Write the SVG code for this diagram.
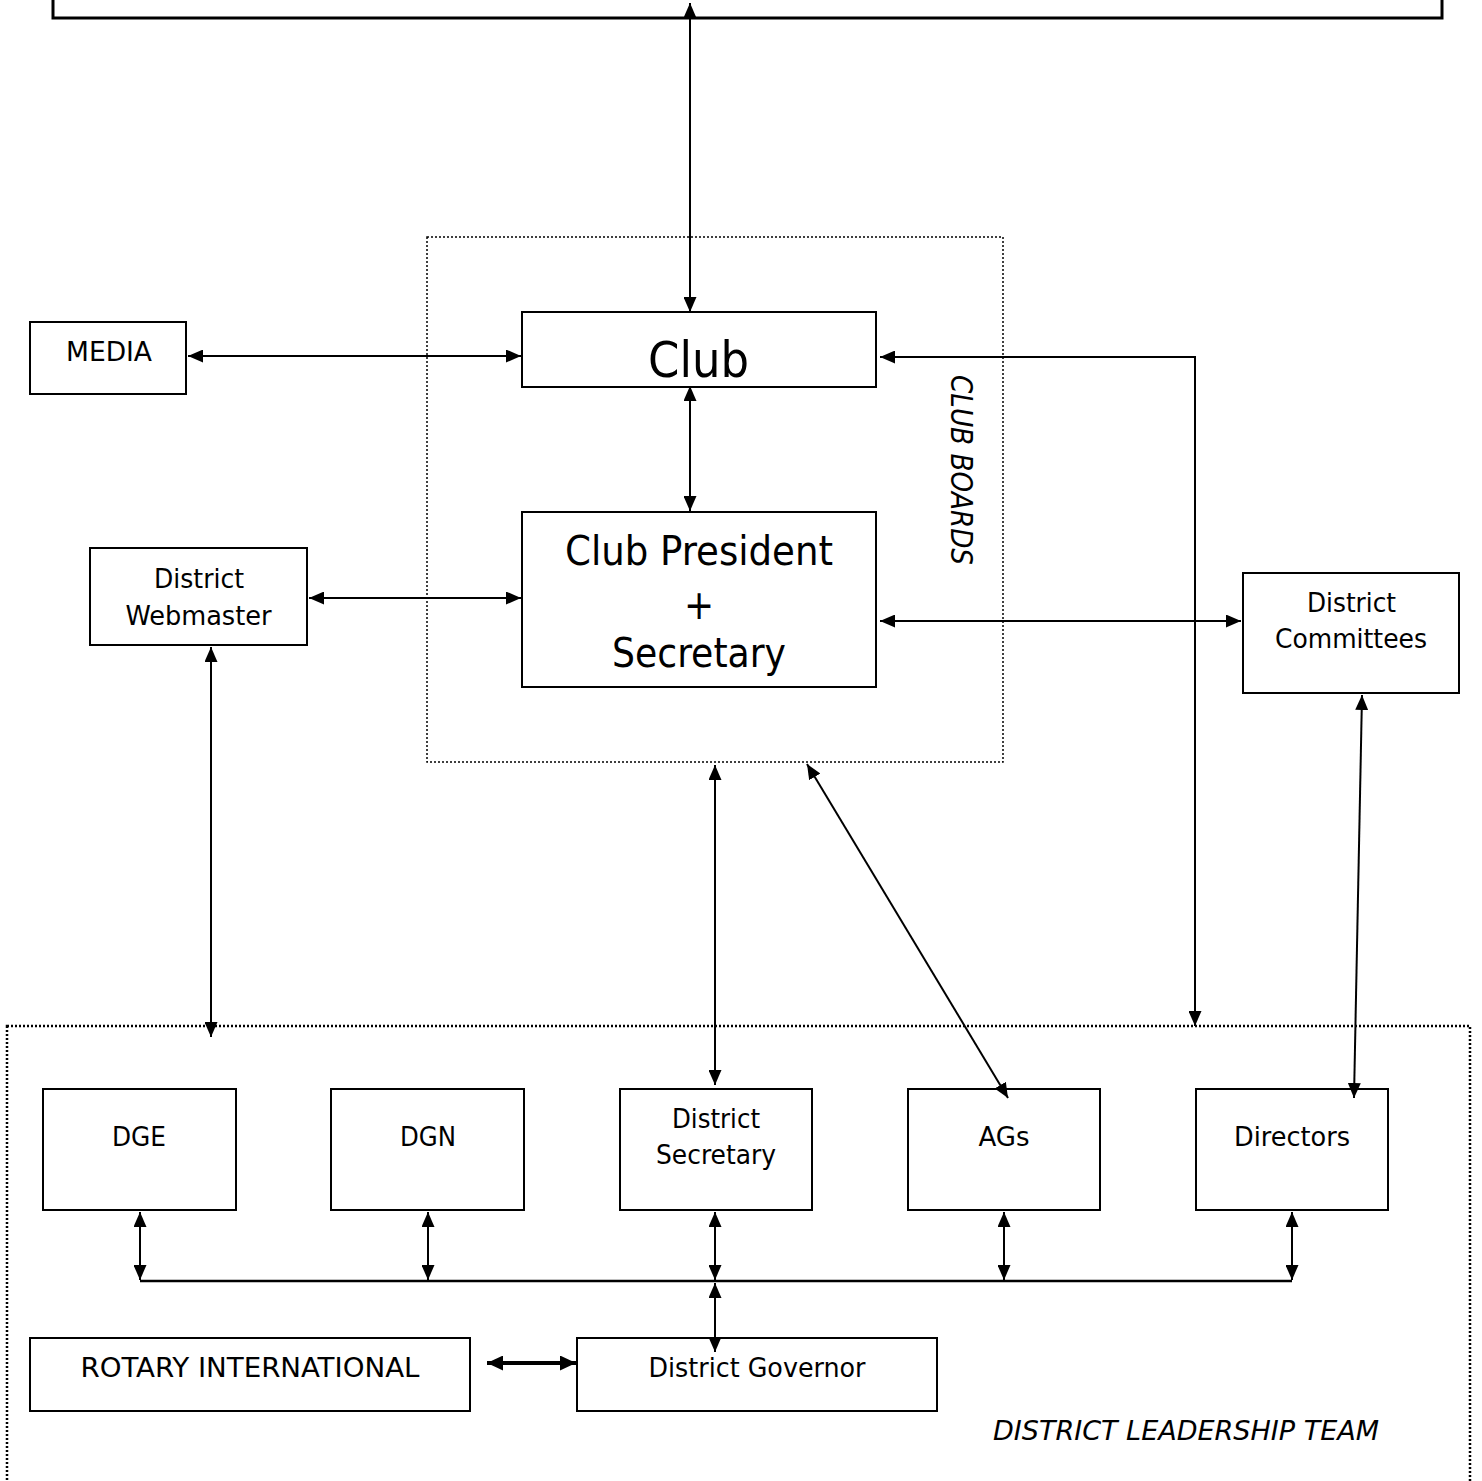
<svg xmlns="http://www.w3.org/2000/svg" width="1482" height="1481" viewBox="0 0 1482 1481">
<style>
.box{fill:#fff;stroke:#000;stroke-width:2}
.t{font-family:"DejaVu Sans Condensed","DejaVu Sans",sans-serif;font-size:26px;fill:#000;text-anchor:middle}
.big{font-size:40px}
.club{font-size:50px}
.it{font-style:italic}
.c{fill:none;stroke:#000;stroke-width:2;marker-start:url(#ah);marker-end:url(#ah)}
</style>
<defs>
<marker id="ah" viewBox="0 0 15 13" refX="15" refY="6.5" markerWidth="15" markerHeight="13" markerUnits="userSpaceOnUse" orient="auto-start-reverse">
<path d="M0,0 L15,6.5 L0,13 z" fill="#000"/>
</marker>
<marker id="ah2" viewBox="0 0 16 15" refX="16" refY="7.5" markerWidth="16" markerHeight="15" markerUnits="userSpaceOnUse" orient="auto-start-reverse">
<path d="M0,0 L16,7.5 L0,15 z" fill="#000"/>
</marker>
</defs>
<rect width="1482" height="1481" fill="#fff"/>

<g id="club-boards">
<rect x="427" y="237" width="576" height="525" fill="none" stroke="#000" stroke-width="1.5" stroke-dasharray="2,2"/>
<text class="t it" font-size="30" transform="translate(951,470) rotate(90)" style="font-size:30px" textLength="190" lengthAdjust="spacingAndGlyphs">CLUB BOARDS</text>
</g>

<g id="district-leadership-team">
<rect x="7" y="1026" width="1463" height="470" fill="none" stroke="#000" stroke-width="2.5" stroke-dasharray="2,2"/>
<text class="t it" x="1186" y="1440" style="font-size:27px" textLength="386" lengthAdjust="spacingAndGlyphs">DISTRICT LEADERSHIP TEAM</text>
</g>

<g id="top-box">
<rect x="53" y="-10" width="1389" height="28" fill="#fff" stroke="#000" stroke-width="3"/>
</g>

<g id="media">
<rect class="box" x="30" y="322" width="156" height="72"/>
<text class="t" x="109" y="361" textLength="86" lengthAdjust="spacingAndGlyphs">MEDIA</text>
</g>

<g id="club">
<rect class="box" x="522" y="312" width="354" height="75"/>
<text class="t club" x="698.5" y="377" textLength="101" lengthAdjust="spacingAndGlyphs">Club</text>
</g>

<g id="club-president">
<rect class="box" x="522" y="512" width="354" height="175"/>
<text class="t big" x="699" y="565" textLength="268" lengthAdjust="spacingAndGlyphs">Club President</text>
<text class="t big" x="699" y="619">+</text>
<text class="t big" x="699" y="667" textLength="174" lengthAdjust="spacingAndGlyphs">Secretary</text>
</g>

<g id="district-webmaster">
<rect class="box" x="90" y="548" width="217" height="97"/>
<text class="t" x="199" y="588" textLength="90" lengthAdjust="spacingAndGlyphs">District</text>
<text class="t" x="198.5" y="625" textLength="146" lengthAdjust="spacingAndGlyphs">Webmaster</text>
</g>

<g id="district-committees">
<rect class="box" x="1243" y="573" width="216" height="120"/>
<text class="t" x="1351.5" y="612" textLength="89" lengthAdjust="spacingAndGlyphs">District</text>
<text class="t" x="1351" y="648" textLength="152" lengthAdjust="spacingAndGlyphs">Committees</text>
</g>

<g id="dge">
<rect class="box" x="43" y="1089" width="193" height="121"/>
<text class="t" x="139" y="1146" textLength="54" lengthAdjust="spacingAndGlyphs">DGE</text>
</g>
<g id="dgn">
<rect class="box" x="331" y="1089" width="193" height="121"/>
<text class="t" x="428" y="1146" textLength="56" lengthAdjust="spacingAndGlyphs">DGN</text>
</g>
<g id="district-secretary">
<rect class="box" x="620" y="1089" width="192" height="121"/>
<text class="t" x="716" y="1128" textLength="88" lengthAdjust="spacingAndGlyphs">District</text>
<text class="t" x="716" y="1164" textLength="120" lengthAdjust="spacingAndGlyphs">Secretary</text>
</g>
<g id="ags">
<rect class="box" x="908" y="1089" width="192" height="121"/>
<text class="t" x="1004" y="1146" textLength="51" lengthAdjust="spacingAndGlyphs">AGs</text>
</g>
<g id="directors">
<rect class="box" x="1196" y="1089" width="192" height="121"/>
<text class="t" x="1292" y="1146" textLength="116" lengthAdjust="spacingAndGlyphs">Directors</text>
</g>

<g id="rotary-international">
<rect class="box" x="30" y="1338" width="440" height="73"/>
<text class="t" x="250" y="1377" textLength="339" lengthAdjust="spacingAndGlyphs">ROTARY INTERNATIONAL</text>
</g>
<g id="district-governor">
<rect class="box" x="577" y="1338" width="360" height="73"/>
<text class="t" x="757" y="1377" textLength="217" lengthAdjust="spacingAndGlyphs">District Governor</text>
</g>

<g id="connectors">
<line class="c" x1="690" y1="3" x2="690" y2="312"/>
<line class="c" x1="188" y1="356" x2="521" y2="356"/>
<line class="c" x1="690" y1="386" x2="690" y2="511"/>
<polyline class="c" points="1195,1026 1195,357 880,357"/>
<line class="c" x1="309" y1="598" x2="521" y2="598"/>
<line class="c" x1="880" y1="621" x2="1241" y2="621"/>
<line class="c" x1="211" y1="647" x2="211" y2="1037"/>
<line class="c" x1="1362" y1="695" x2="1354" y2="1098"/>
<line class="c" x1="715" y1="765" x2="715" y2="1085"/>
<line class="c" x1="807" y1="764" x2="1008" y2="1098"/>
<line class="c" x1="140" y1="1212" x2="140" y2="1280"/>
<line class="c" x1="428" y1="1212" x2="428" y2="1280"/>
<line class="c" x1="715" y1="1212" x2="715" y2="1280"/>
<line class="c" x1="1004" y1="1212" x2="1004" y2="1280"/>
<line class="c" x1="1292" y1="1212" x2="1292" y2="1280"/>
<line x1="140" y1="1281" x2="1292" y2="1281" stroke="#000" stroke-width="2.5"/>
<line class="c" x1="715" y1="1283" x2="715" y2="1352"/>
<line x1="487" y1="1363" x2="576" y2="1363" stroke="#000" stroke-width="4" marker-start="url(#ah2)" marker-end="url(#ah2)"/>
</g>
</svg>
